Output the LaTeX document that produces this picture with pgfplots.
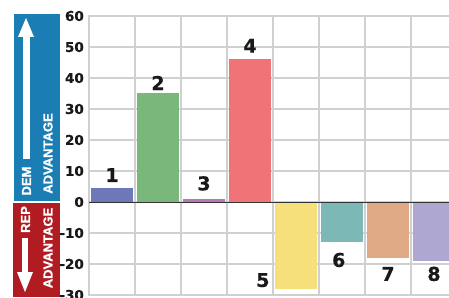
\documentclass[border=0pt]{standalone}
\usepackage{fontspec}
\usepackage{pgfplots}
\pgfplotsset{compat=1.18}
\newfontfamily\dvb{DejaVu Sans Bold}[FakeBold=0.6]
\newfontfamily\lsb{Liberation Sans Bold}[FakeBold=1.0]
\definecolor{cA}{HTML}{6E78B9}
\definecolor{cB}{HTML}{79B77A}
\definecolor{cC}{HTML}{B47BB9}
\definecolor{cD}{HTML}{F07377}
\definecolor{cE}{HTML}{F5E07B}
\definecolor{cF}{HTML}{7BB8B6}
\definecolor{cG}{HTML}{DFAA85}
\definecolor{cH}{HTML}{AEA7D1}
\definecolor{demblue}{HTML}{1A7DB4}
\definecolor{repred}{HTML}{B01C22}
\definecolor{gridc}{HTML}{D0D0D0}
\begin{document}
\begin{tikzpicture}
\useasboundingbox (0pt,0pt) rectangle (449pt,297pt);
\clip (0pt,0pt) rectangle (449pt,297pt);
\begin{axis}[
  at={(89pt,2pt)}, anchor=south west,
  scale only axis, width=368pt, height=279pt,
  xmin=0.5, xmax=8.5, ymin=-30, ymax=60,
  xtick={0.5,1.5,...,8.5}, xticklabels={},
  ytick={-30,-20,...,60},
  major tick length=0pt,
  grid=major,
  major grid style={draw=gridc, line width=1.1pt},
  axis line style={draw=gridc, line width=1.1pt},
  /pgf/number format/assume math mode=true,
  yticklabel style={font=\dvb\fontsize{13.5}{14}\selectfont, text=black!90, inner sep=0pt, xshift=-5pt},
  clip=true,
]
\addplot[ybar, bar shift=0pt, bar width=42pt, fill=cA, draw=none] coordinates {(1,4.5)};
\addplot[ybar, bar shift=0pt, bar width=42pt, fill=cB, draw=none] coordinates {(2,35)};
\addplot[ybar, bar shift=0pt, bar width=42pt, fill=cC, draw=none] coordinates {(3,1)};
\addplot[ybar, bar shift=0pt, bar width=42pt, fill=cD, draw=none] coordinates {(4,46)};
\addplot[ybar, bar shift=0pt, bar width=42pt, fill=cE, draw=none] coordinates {(5,-28)};
\addplot[ybar, bar shift=0pt, bar width=42pt, fill=cF, draw=none] coordinates {(6,-13)};
\addplot[ybar, bar shift=0pt, bar width=42pt, fill=cG, draw=none] coordinates {(7,-18)};
\addplot[ybar, bar shift=0pt, bar width=42pt, fill=cH, draw=none] coordinates {(8,-19)};
\draw[black!80, line width=0.8pt] (axis cs:0.5,0) -- (axis cs:8.5,0);
\begin{scope}[every node/.style={font=\dvb\fontsize{19}{19}\selectfont, inner sep=0pt, text=black!90}]
\node at (axis cs:1,8.7) {1};
\node at (axis cs:2,38.4) {2};
\node at (axis cs:3,6.0) {3};
\node at (axis cs:4,50.4) {4};
\node at (axis cs:4.28,-25.2) {5};
\node at (axis cs:5.93,-18.7) {6};
\node at (axis cs:7.0,-23.2) {7};
\node at (axis cs:8.0,-23.2) {8};
\end{scope}
\end{axis}
\begin{scope}[x=1pt,y=1pt]
\fill[demblue] (14,96) rectangle (60,283);
\fill[repred] (13,0) rectangle (60,94);
\fill[white] (22.5,138) rectangle (29.5,260);
\fill[white] (18,260) -- (34,260) -- (26,279) -- cycle;
\fill[white] (22,25) rectangle (28,59);
\fill[white] (17,25) -- (33,25) -- (25,5) -- cycle;
\node[rotate=90,text=white,inner sep=0pt,font=\lsb\fontsize{13}{13}\selectfont] at (26.5,116) {DEM};
\node[rotate=90,text=white,inner sep=0pt,font=\lsb\fontsize{13}{13}\selectfont] at (48,143.5) {ADVANTAGE};
\node[rotate=90,text=white,inner sep=0pt,font=\lsb\fontsize{13}{13}\selectfont] at (25.5,77.5) {REP};
\node[rotate=90,text=white,inner sep=0pt,font=\lsb\fontsize{13}{13}\selectfont] at (48,49) {ADVANTAGE};
\end{scope}
\end{tikzpicture}
\end{document}
